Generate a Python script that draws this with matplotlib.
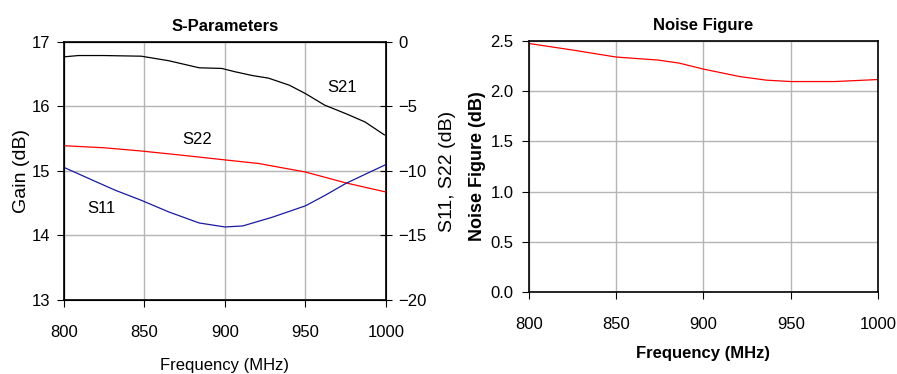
import matplotlib
matplotlib.use("Agg")
import matplotlib.pyplot as plt

plt.rcParams['font.family'] = ['Liberation Sans', 'DejaVu Sans']

# 数据
s21_freq = [800, 809, 825, 848, 865, 884, 898, 906, 917, 927, 940, 950, 962, 975, 987, 999]
s21_gain = [16.77, 16.79, 16.79, 16.78, 16.71, 16.60, 16.59, 16.54, 16.48, 16.44, 16.33, 16.20,
            16.02, 15.89, 15.76, 15.56]

s22_freq = [800, 825, 848, 875, 900, 921, 950, 975, 1000]
s22_db = [-8.04, -8.2, -8.45, -8.8, -9.14, -9.42, -10.08, -10.92, -11.63]

s11_freq = [800, 817, 832, 848, 865, 884, 900, 911, 929, 950, 962, 975, 988, 1000]
s11_db = [-9.72, -10.67, -11.5, -12.27, -13.17, -14.03, -14.34, -14.26, -13.6, -12.7, -11.9,
          -10.97, -10.2, -9.5]

nf_freq = [800, 825, 850, 874, 886, 900, 921, 936, 950, 975, 1000]
nf = [2.475, 2.41, 2.34, 2.31, 2.28, 2.22, 2.145, 2.11, 2.096, 2.096, 2.116]

fig = plt.figure(figsize=(8.97, 3.74), dpi=100)

# 左图：S参数
ax1 = fig.add_axes([0.0713, 0.1979, 0.359, 0.6898])
ax1.plot(s21_freq, s21_gain, color='black', linewidth=0.9)
ax1.set_xlim(800, 1000)
ax1.set_ylim(13, 17)
ax1.set_xticks([800, 850, 900, 950, 1000])
ax1.set_yticks([13, 14, 15, 16, 17])
ax1.grid(True, color='#b5b5b5', linewidth=1.0)
ax1.set_axisbelow(True)
ax1.tick_params(axis='y', labelsize=12, direction='out', length=5, pad=5)
ax1.tick_params(axis='x', labelsize=12, direction='out', length=5, pad=13)
ax1.set_xlabel("Frequency (MHz)", fontsize=12, labelpad=13)
ax1.set_ylabel("Gain (dB)", fontsize=14, labelpad=1)
ax1.set_title("S-Parameters", fontsize=12, fontweight='bold', pad=8)

ax2 = ax1.twinx()
ax2.plot(s22_freq, s22_db, color='red', linewidth=0.9)
ax2.plot(s11_freq, s11_db, color='#1a1aa0', linewidth=0.9)
ax2.set_ylim(-20, 0)
ax2.set_yticks([-20, -15, -10, -5, 0])
ax2.tick_params(labelsize=12, direction='inout', length=8, pad=5)
ax2.set_ylabel("S11, S22 (dB)", fontsize=14, labelpad=9)

ax1.text(973, 16.30, "S21", fontsize=12, ha='center', va='center')
ax1.text(883, 15.49, "S22", fontsize=12, ha='center', va='center')
ax1.text(823, 14.42, "S11", fontsize=12, ha='center', va='center')

# 右图：噪声系数
ax3 = fig.add_axes([0.5897, 0.2193, 0.3891, 0.6711])
ax3.plot(nf_freq, nf, color='red', linewidth=0.9)
ax3.set_xlim(800, 1000)
ax3.set_ylim(0, 2.5)
ax3.set_xticks([800, 850, 900, 950, 1000])
ax3.set_yticks([0.0, 0.5, 1.0, 1.5, 2.0, 2.5])
ax3.set_yticklabels(["0.0", "0.5", "1.0", "1.5", "2.0", "2.5"])
ax3.grid(True, color='#b5b5b5', linewidth=1.0)
ax3.set_axisbelow(True)
ax3.tick_params(axis='y', labelsize=12, direction='out', length=5, pad=6)
ax3.tick_params(axis='x', labelsize=12, direction='out', length=5, pad=13)
ax3.set_xlabel("Frequency (MHz)", fontsize=12, fontweight='bold', labelpad=10)
ax3.set_ylabel("Noise Figure (dB)", fontsize=13, fontweight='bold', labelpad=3)
ax3.set_title("Noise Figure", fontsize=12, fontweight='bold', pad=8)

for ax in (ax1, ax3):
    for s in ax.spines.values():
        s.set_linewidth(1.2)

plt.savefig("out.png", dpi=100)
plt.close()
